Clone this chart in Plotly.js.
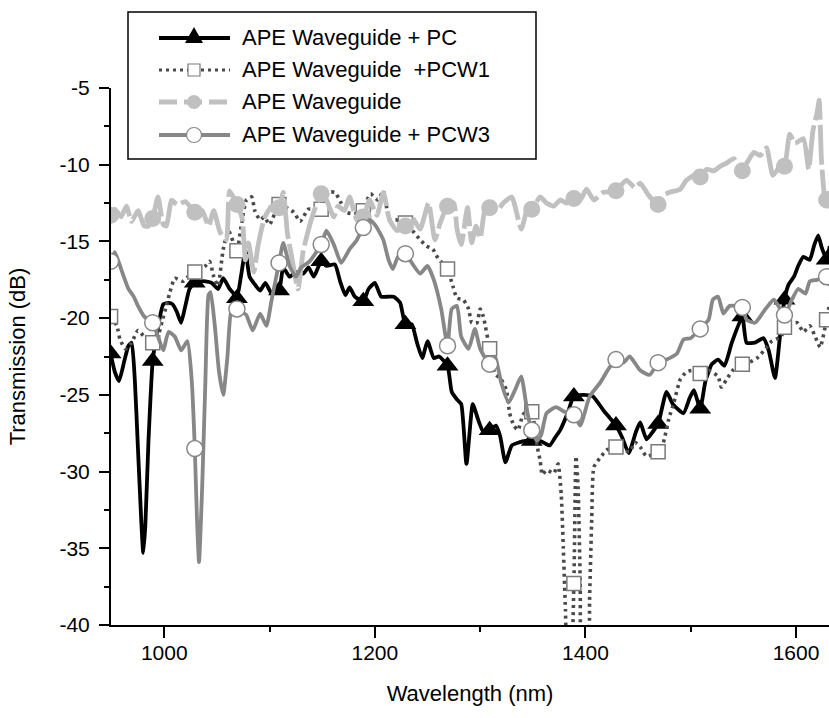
<!DOCTYPE html>
<html><head><meta charset="utf-8">
<script src="https://cdn.plot.ly/plotly-3.0.1.min.js"></script>
<style>html,body{margin:0;padding:0;background:#fff}#chart{width:829px;height:718px}</style>
</head><body><div id="chart"></div>
<script>
// ---- data ----
const markX = [949,989,1029,1069,1109,1149,1189,1229,1269,1309,1349,1389,1429,1469,1509,1549,1589,1629];

const seriesNames = ["APE Waveguide + PC", "APE Waveguide\u00a0\u00a0+PCW1", "APE Waveguide", "APE Waveguide + PCW3"];

const pcX = [949,953,957,962,966,969,972,975,978,980,982,985,989,993,999,1004,1008,1012,1016,1020,1024,1029,1034,1039,1045,1051,1056,1062,1066,1069,1073,1077,1081,1086,1091,1096,1102,1109,1113,1119,1125,1132,1137,1142,1149,1154,1162,1167,1172,1176,1181,1189,1194,1200,1206,1213,1218,1224,1229,1235,1240,1245,1250,1256,1261,1269,1273,1278,1282,1287,1293,1298,1303,1309,1315,1319,1324,1330,1337,1343,1349,1357,1366,1371,1376,1383,1389,1398,1407,1417,1423,1429,1435,1441,1448,1452,1458,1464,1469,1477,1483,1493,1499,1503,1509,1514,1520,1526,1532,1539,1549,1553,1561,1569,1574,1580,1585,1589,1593,1598,1602,1607,1613,1617,1621,1624,1629,1632];
const pcY = [-22.3,-23.5,-24.1,-22.8,-21.8,-21.6,-24.0,-28.5,-33.0,-35.3,-33.5,-28.0,-22.8,-21.0,-19.1,-19.0,-19.1,-19.6,-20.3,-19.2,-18.1,-17.7,-17.6,-17.6,-17.7,-18.1,-17.4,-18.1,-18.4,-18.7,-17.2,-15.6,-17.3,-17.8,-18.2,-17.7,-18.4,-18.2,-16.7,-17.3,-17.0,-17.1,-16.7,-17.3,-16.3,-16.6,-16.5,-17.6,-18.5,-18.0,-18.6,-18.9,-18.1,-17.7,-18.6,-18.6,-18.6,-19.0,-20.4,-20.4,-21.6,-22.6,-21.5,-22.6,-22.5,-23.1,-24.8,-25.3,-25.6,-29.5,-25.6,-26.6,-27.4,-27.3,-27.0,-27.7,-29.4,-28.3,-28.1,-28.0,-28.0,-28.0,-28.3,-27.8,-27.3,-26.2,-25.1,-25.0,-25.1,-26.0,-26.5,-27.0,-27.8,-28.8,-27.4,-26.8,-27.9,-27.4,-26.9,-24.8,-25.6,-26.2,-25.2,-24.7,-25.9,-24.1,-23.0,-22.7,-23.1,-21.6,-19.9,-21.6,-21.6,-21.3,-22.1,-23.9,-21.0,-18.8,-17.8,-17.3,-16.6,-16.0,-16.2,-15.3,-14.6,-15.3,-16.2,-15.3];

const pcw1X = [949,955,958,963,969,975,981,989,994,998,1002,1005,1010,1018,1024,1029,1039,1043,1047,1051,1056,1061,1069,1073,1078,1083,1086,1091,1095,1100,1109,1116,1123,1129,1137,1149,1156,1162,1168,1173,1180,1189,1192,1196,1203,1208,1214,1221,1229,1237,1243,1249,1255,1260,1269,1274,1278,1284,1289,1292,1297,1300,1303,1309,1314,1320,1325,1328,1332,1336,1340,1344,1349,1354,1357,1359,1363,1370,1374,1377,1379,1381,1383,1386,1389,1391,1393,1395,1397,1402,1404,1406,1408,1414,1420,1429,1436,1442,1447,1452,1458,1469,1474,1479,1484,1490,1496,1502,1509,1517,1526,1529,1534,1540,1549,1555,1563,1571,1577,1586,1589,1593,1601,1607,1613,1620,1623,1629,1632];
const pcw1Y = [-19.9,-20.5,-21.4,-22.0,-21.6,-20.8,-21.2,-21.6,-21.2,-20.2,-19.2,-18.4,-17.4,-17.6,-17.2,-17.0,-16.6,-16.3,-17.3,-17.9,-15.5,-14.3,-15.6,-14.0,-12.3,-12.1,-13.0,-13.6,-13.4,-13.9,-12.6,-12.8,-13.1,-13.7,-12.9,-12.9,-11.8,-11.8,-12.5,-13.1,-13.2,-13.0,-12.4,-11.9,-12.3,-11.7,-13.6,-13.6,-13.8,-14.4,-14.9,-15.3,-15.5,-16.1,-16.8,-17.9,-18.7,-18.8,-19.4,-20.3,-20.3,-19.4,-19.9,-22.0,-23.6,-24.0,-24.7,-26.2,-27.0,-27.3,-26.4,-26.0,-26.1,-28.3,-29.3,-30.2,-29.9,-30.1,-29.5,-31.5,-35.0,-39.0,-42.0,-42.0,-37.3,-29.0,-31.0,-37.0,-42.0,-42.0,-38.0,-33.0,-29.7,-29.1,-28.6,-28.4,-28.6,-28.7,-28.1,-28.4,-29.0,-28.7,-28.1,-26.6,-25.5,-24.0,-23.5,-23.4,-23.6,-23.4,-23.8,-24.5,-24.0,-23.4,-23.0,-22.9,-22.6,-22.0,-21.5,-21.2,-20.6,-20.4,-20.3,-20.9,-20.5,-21.5,-21.9,-20.1,-19.0];

const apeX = [949,953,959,964,969,975,981,985,989,994,999,1002,1007,1012,1020,1029,1036,1042,1047,1053,1059,1062,1069,1074,1077,1080,1085,1089,1095,1102,1109,1113,1117,1121,1127,1132,1140,1149,1154,1161,1165,1171,1176,1183,1189,1195,1202,1208,1214,1221,1229,1235,1243,1251,1257,1262,1269,1275,1278,1282,1288,1292,1296,1300,1305,1309,1316,1322,1330,1339,1346,1349,1357,1363,1370,1376,1382,1389,1395,1401,1408,1417,1429,1433,1439,1447,1452,1460,1469,1474,1480,1490,1496,1503,1509,1515,1522,1528,1534,1541,1549,1554,1560,1566,1572,1578,1585,1589,1594,1599,1607,1612,1616,1620,1622,1624,1627,1629,1632];
const apeY = [-13.3,-12.9,-13.4,-12.7,-13.7,-13.0,-14.0,-14.0,-13.5,-12.1,-13.9,-14.0,-12.3,-12.6,-12.4,-13.1,-13.0,-14.0,-13.0,-14.4,-14.9,-11.7,-12.6,-13.5,-16.2,-15.1,-17.0,-15.3,-13.5,-12.7,-12.8,-11.8,-14.5,-16.0,-18.1,-15.6,-13.5,-11.9,-12.3,-13.4,-12.7,-13.0,-12.1,-13.6,-13.4,-12.3,-13.3,-11.8,-13.6,-14.3,-14.0,-13.4,-14.2,-12.5,-14.9,-13.8,-12.7,-12.5,-14.2,-15.2,-12.8,-15.1,-14.0,-14.8,-12.8,-12.8,-13.0,-12.5,-12.1,-14.2,-12.6,-12.9,-12.1,-12.5,-12.7,-12.3,-12.5,-12.2,-12.3,-11.6,-12.3,-11.8,-11.7,-11.4,-11.0,-11.5,-11.2,-12.0,-12.6,-12.0,-11.8,-11.6,-11.0,-10.7,-10.8,-10.3,-10.4,-10.1,-9.9,-9.6,-10.4,-9.8,-9.2,-9.4,-8.9,-10.7,-10.1,-10.1,-8.0,-8.6,-8.3,-10.3,-7.8,-6.6,-5.8,-9.5,-12.0,-12.3,-11.6];

const pcw3X = [949,953,959,966,971,975,981,989,994,999,1004,1010,1016,1022,1026,1029,1031,1033,1036,1039,1042,1044,1048,1052,1056,1060,1064,1069,1074,1078,1084,1091,1097,1102,1109,1113,1119,1125,1130,1138,1149,1154,1161,1168,1176,1182,1189,1195,1201,1208,1213,1217,1222,1229,1236,1243,1250,1256,1263,1269,1273,1278,1282,1289,1295,1300,1309,1314,1320,1327,1333,1339,1345,1349,1354,1358,1363,1372,1380,1389,1395,1404,1414,1422,1429,1436,1442,1452,1461,1469,1477,1487,1493,1500,1509,1517,1521,1526,1531,1537,1549,1553,1561,1571,1579,1589,1596,1602,1609,1613,1620,1629,1632];
const pcw3Y = [-16.3,-15.7,-16.8,-18.1,-18.6,-19.2,-19.9,-20.3,-21.2,-22.1,-20.9,-21.2,-22.1,-21.5,-24.0,-28.5,-33.0,-35.9,-31.0,-24.2,-18.5,-18.3,-20.5,-23.5,-25.0,-22.5,-19.4,-19.4,-19.6,-19.8,-20.8,-19.7,-20.5,-18.8,-16.4,-15.1,-16.6,-17.3,-16.7,-16.3,-15.2,-14.3,-15.2,-16.4,-15.5,-15.0,-14.1,-13.6,-14.0,-14.9,-16.2,-16.8,-16.0,-15.8,-16.5,-17.1,-16.6,-17.5,-19.4,-21.8,-19.4,-19.2,-21.2,-22.0,-20.7,-22.0,-23.0,-22.5,-24.2,-25.5,-24.7,-23.8,-26.2,-27.3,-28.0,-27.6,-26.2,-25.8,-26.1,-26.3,-27.0,-25.1,-24.2,-23.3,-22.7,-22.9,-22.5,-23.4,-23.7,-22.9,-22.7,-22.3,-21.4,-21.3,-20.7,-20.1,-18.8,-18.6,-19.7,-19.2,-19.3,-20.1,-20.3,-19.4,-18.8,-19.8,-18.8,-18.1,-18.4,-17.6,-17.5,-17.3,-17.9];

const xTicks = [1000, 1200, 1400, 1600];
const yTicks = [-40, -35, -30, -25, -20, -15, -10, -5];

// ---- figure geometry ----
const W = 829, H = 718, ML = 111, MR = 0, MT = 88, MB = 93;
const PW = W - ML - MR, PH = H - MT - MB;
const px = v => (v - ML) / PW;          // pixel x -> paper
const py = v => (H - MB - v) / PH;      // pixel y -> paper

const FONT = '"Liberation Sans", Arial, Helvetica, sans-serif';

function marks(xs, ys) {
  const mx = [], my = [];
  xs.forEach((x, i) => { if (markX.includes(x)) { mx.push(x); my.push(ys[i]); } });
  return [mx, my];
}

const styles = [
  {x: pcX, y: pcY, line: {color: '#000000', width: 3.8},
   marker: {symbol: 'triangle-up', size: 19, color: '#000000', line: {width: 0}}},
  {x: pcw1X, y: pcw1Y, line: {color: '#4a4a4a', width: 3.6, dash: '3px,4px'},
   marker: {symbol: 'square', size: 14, color: '#ffffff', line: {color: '#7a7a7a', width: 1.5}}},
  {x: apeX, y: apeY, line: {color: '#c0c0c0', width: 4.8, dash: '40px,5px'},
   marker: {symbol: 'circle', size: 17, color: '#c0c0c0', line: {width: 0}}},
  {x: pcw3X, y: pcw3Y, line: {color: '#878787', width: 3.8},
   marker: {symbol: 'circle', size: 16, color: '#ffffff', line: {color: '#878787', width: 1.5}}}
];

const traces = [];
styles.forEach((s, i) => {
  traces.push({type: 'scatter', mode: 'lines', x: s.x, y: s.y, name: seriesNames[i],
    line: Object.assign({shape: 'spline', smoothing: 0.5}, s.line), showlegend: false, hoverinfo: 'skip'});
  const [mx, my] = marks(s.x, s.y);
  traces.push({type: 'scatter', mode: 'markers', x: mx, y: my, name: seriesNames[i],
    marker: s.marker, showlegend: false, cliponaxis: true});
});

// ---- hand-drawn legend (shapes + text) ----
const shapes = [];
const annotations = [];
shapes.push({type: 'rect', xref: 'paper', yref: 'paper', x0: px(128), x1: px(536), y0: py(12), y1: py(159),
  line: {color: '#000', width: 1.5}, fillcolor: '#ffffff', layer: 'above'});
const rows = [38, 70, 102, 135];
const lx0 = 159, lx1 = 230, mxc = 194, tx = 240;
shapes.push({type: 'line', xref: 'paper', yref: 'paper', x0: px(lx0), x1: px(lx1), y0: py(rows[0]), y1: py(rows[0]), line: {color: '#000', width: 4}});
shapes.push({type: 'line', xref: 'paper', yref: 'paper', x0: px(lx0), x1: px(lx1), y0: py(rows[1]), y1: py(rows[1]), line: {color: '#4a4a4a', width: 3, dash: '3px,4px'}});
shapes.push({type: 'line', xref: 'paper', yref: 'paper', x0: px(lx0), x1: px(lx1), y0: py(rows[2]), y1: py(rows[2]), line: {color: '#c0c0c0', width: 5, dash: '18px,7px'}});
shapes.push({type: 'line', xref: 'paper', yref: 'paper', x0: px(lx0), x1: px(lx1), y0: py(rows[3]), y1: py(rows[3]), line: {color: '#878787', width: 4}});
const tri = `M ${px(mxc - 9)} ${py(rows[0] + 5)} L ${px(mxc + 9)} ${py(rows[0] + 5)} L ${px(mxc)} ${py(rows[0] - 11)} Z`;
shapes.push({type: 'path', xref: 'paper', yref: 'paper', path: tri, fillcolor: '#000', line: {color: '#000', width: 0}});
shapes.push({type: 'rect', xref: 'paper', yref: 'paper', x0: px(mxc - 6), x1: px(mxc + 6), y0: py(rows[1] + 6), y1: py(rows[1] - 6),
  fillcolor: '#fff', line: {color: '#7a7a7a', width: 1.2}});
shapes.push({type: 'circle', xref: 'paper', yref: 'paper', x0: px(mxc - 7), x1: px(mxc + 7), y0: py(rows[2] + 7), y1: py(rows[2] - 7),
  fillcolor: '#c0c0c0', line: {color: '#c0c0c0', width: 0}});
shapes.push({type: 'circle', xref: 'paper', yref: 'paper', x0: px(mxc - 7.5), x1: px(mxc + 7.5), y0: py(rows[3] + 7.5), y1: py(rows[3] - 7.5),
  fillcolor: '#fff', line: {color: '#878787', width: 1.2}});
seriesNames.forEach((n, i) => {
  annotations.push({xref: 'paper', yref: 'paper', x: px(tx), y: py(rows[i]), xanchor: 'left', yanchor: 'middle',
    text: n, showarrow: false, font: {family: FONT, size: 22, color: '#000'}});
});

const layout = {
  width: W, height: H,
  margin: {l: ML, r: MR, t: MT, b: MB, pad: 0},
  paper_bgcolor: '#ffffff', plot_bgcolor: '#ffffff',
  font: {family: FONT, color: '#000'},
  showlegend: false,
  xaxis: {
    range: [949.4, 1631.3], showgrid: false, zeroline: false,
    showline: true, linecolor: '#000', linewidth: 2,
    ticks: 'outside', ticklen: 11, tickwidth: 2, tickcolor: '#000',
    tickmode: 'array', tickvals: xTicks, ticktext: xTicks.map(String),
    tickfont: {family: FONT, size: 21, color: '#000'}, ticklabelstandoff: -3,
    minor: {tickmode: 'linear', tick0: 1000, dtick: 100, ticks: 'outside', ticklen: 5, tickwidth: 2, tickcolor: '#000', showgrid: false},
    title: {text: 'Wavelength (nm)', font: {family: FONT, size: 22, color: '#000'}, standoff: 22},
    automargin: false
  },
  yaxis: {
    range: [-40, -5], showgrid: false, zeroline: false,
    showline: true, linecolor: '#000', linewidth: 2,
    ticks: 'outside', ticklen: 10, tickwidth: 2, tickcolor: '#000',
    tickmode: 'array', tickvals: yTicks, ticktext: yTicks.map(String),
    tickfont: {family: FONT, size: 21, color: '#000'}, ticklabelstandoff: 5,
    minor: {tickmode: 'linear', tick0: -40, dtick: 2.5, ticks: 'outside', ticklen: 5, tickwidth: 2, tickcolor: '#000', showgrid: false},
    title: {text: 'Transmission (dB)', font: {family: FONT, size: 22, color: '#000'}, standoff: 28},
    automargin: false
  },
  shapes: shapes,
  annotations: annotations
};

Plotly.newPlot('chart', traces, layout, {staticPlot: true, displayModeBar: false});
</script>
</body></html>
